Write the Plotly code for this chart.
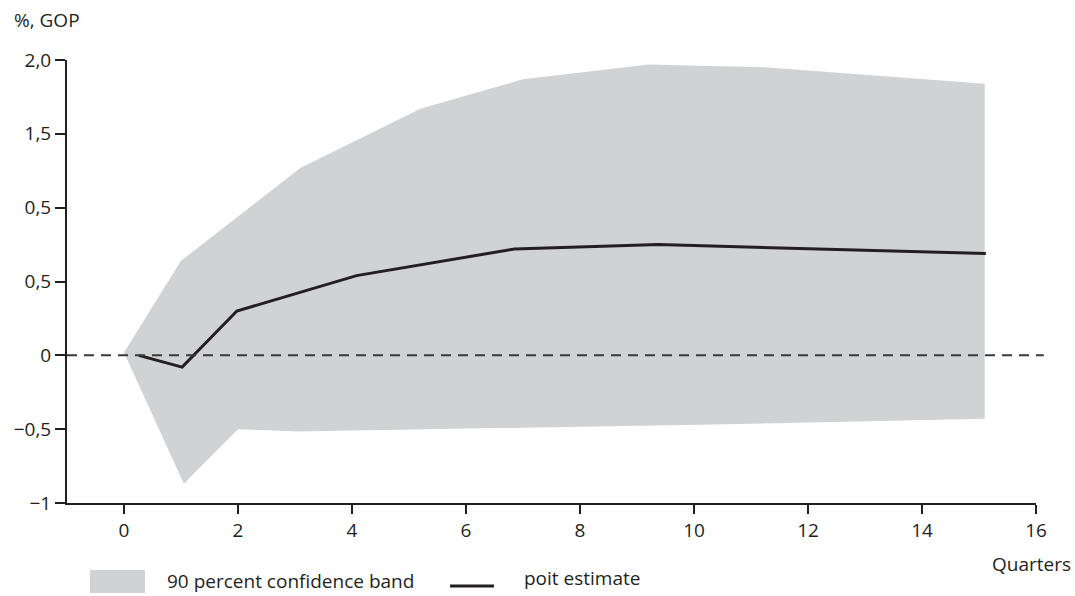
import plotly.graph_objects as go

# Confidence band (upper and lower edges)
upper_x = [0.0, 1.0, 3.1, 5.2, 7.0, 9.2, 11.3, 15.1]
upper_y = [0.02, 0.64, 1.27, 1.67, 1.87, 1.97, 1.95, 1.84]
lower_x = [0.0, 1.05, 2.0, 3.05, 10.1, 15.1]
lower_y = [0.02, -0.87, -0.50, -0.515, -0.47, -0.43]

# Point estimate
est_x = [0.26, 1.02, 1.98, 4.08, 6.85, 9.38, 15.12]
est_y = [0.0, -0.08, 0.30, 0.54, 0.72, 0.75, 0.69]

# Axis ticks
x_ticks = [0, 2, 4, 6, 8, 10, 12, 14, 16]
y_tickvals = [-1, -0.5, 0, 0.5, 1, 1.5, 2]
y_ticktext = ["\u22121", "\u22120,5", "0", "0,5", "0,5", "1,5", "2,0"]

BAND = "#d1d2d4"
INK = "#231f20"
FONT = "Open Sans"
FS = 19

band_x = upper_x + lower_x[::-1]
band_y = upper_y + lower_y[::-1]

fig = go.Figure()
fig.add_trace(go.Scatter(x=band_x, y=band_y, fill="toself", fillcolor=BAND,
                         line=dict(width=0), mode="lines", hoverinfo="skip",
                         showlegend=False, name="90 percent confidence band"))
fig.add_trace(go.Scatter(x=est_x, y=est_y, mode="lines",
                         line=dict(color=INK, width=3), showlegend=False,
                         name="poit estimate"))

# zero reference line
fig.add_shape(type="line", xref="paper", yref="y", x0=0, x1=1.008, y0=0, y1=0,
              line=dict(color="#3a3a3a", width=2, dash="10px,7px"))

fig.update_xaxes(range=[-1, 16], tickvals=x_ticks, ticks="outside", ticklen=9,
                 tickwidth=2, tickcolor=INK, showline=True, linecolor=INK,
                 linewidth=2, showgrid=False, zeroline=False,
                 tickfont=dict(family=FONT, size=FS, color=INK))
fig.update_yaxes(range=[-1, 2], tickvals=y_tickvals, ticktext=y_ticktext,
                 ticks="outside", ticklen=10, tickwidth=2, tickcolor=INK,
                 showline=True, linecolor=INK, linewidth=2, showgrid=False,
                 zeroline=False, tickfont=dict(family=FONT, size=FS, color=INK))

fig.update_layout(width=1075, height=596, margin=dict(l=67, r=39, t=60, b=93),
                  paper_bgcolor="white", plot_bgcolor="white", showlegend=False)

# Convert pixel positions to paper coords for the legend and labels
pw = 1075 - 67 - 39
ph = 596 - 60 - 93
def px(x):
    return (x - 67) / pw
def py(y):
    return (596 - 93 - y) / ph

fig.add_annotation(text="%, GOP", xref="paper", yref="paper", x=px(12), y=py(20),
                   xanchor="left", yanchor="middle", showarrow=False,
                   font=dict(family=FONT, size=FS, color=INK))
fig.add_annotation(text="Quarters", xref="paper", yref="paper", x=px(1073), y=py(564),
                   xanchor="right", yanchor="middle", showarrow=False,
                   font=dict(family=FONT, size=FS, color=INK))
fig.add_shape(type="rect", xref="paper", yref="paper", x0=px(90), x1=px(145),
              y0=py(593), y1=py(570), line=dict(width=0), fillcolor=BAND)
fig.add_annotation(text="90 percent confidence band", xref="paper", yref="paper",
                   x=px(165), y=py(581), xanchor="left", yanchor="middle",
                   showarrow=False, font=dict(family=FONT, size=FS, color=INK))
fig.add_shape(type="line", xref="paper", yref="paper", x0=px(450), x1=px(494),
              y0=py(586), y1=py(586), line=dict(color=INK, width=3))
fig.add_annotation(text="poit estimate", xref="paper", yref="paper",
                   x=px(522), y=py(578), xanchor="left", yanchor="middle",
                   showarrow=False, font=dict(family=FONT, size=FS, color=INK))

fig.write_html("out.html", config={"displayModeBar": False},
               post_script="document.body.style.margin='0';document.body.style.overflow='hidden';")
